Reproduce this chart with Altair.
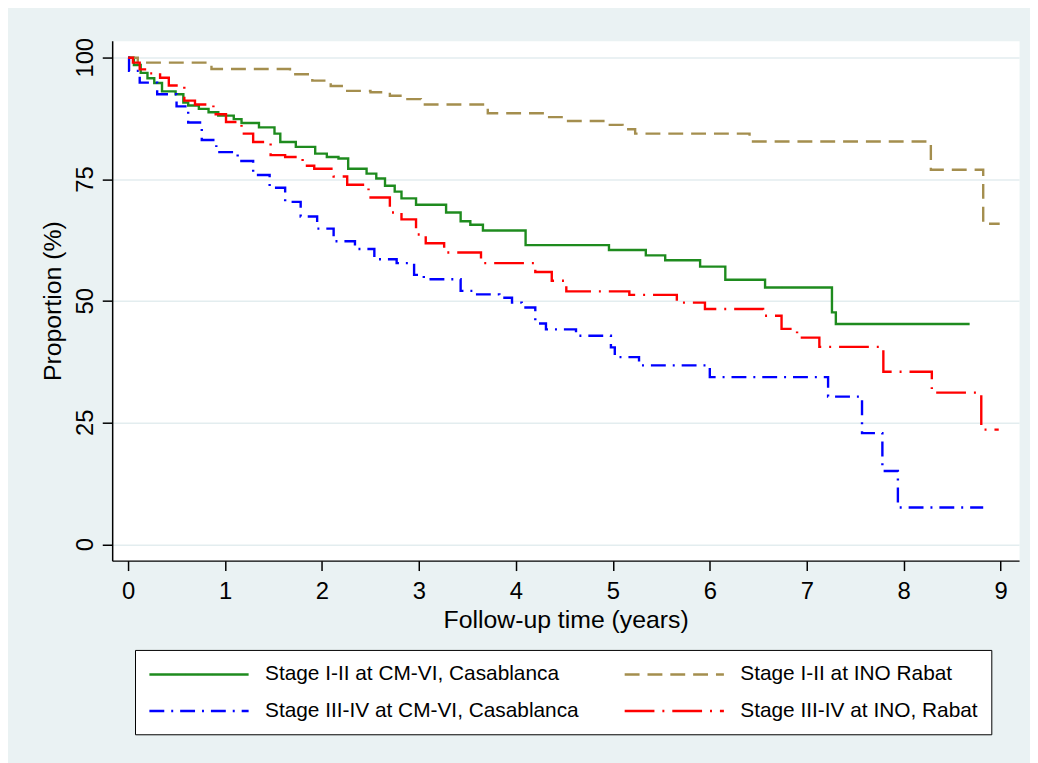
import altair as alt
import pandas as pd

# ---- data ----
series_names = [
    "Stage I-II at CM-VI, Casablanca",
    "Stage I-II at INO Rabat",
    "Stage III-IV at CM-VI, Casablanca",
    "Stage III-IV at INO, Rabat",
]
series_colors = ["#1E8B1E", "#A48E4E", "#0000FF", "#FF0000"]
series_dashes = [[1, 0], [15, 8], [15, 7, 2, 7], [30, 8, 2, 8]]

green_t = [0, 0.06, 0.13, 0.2, 0.27, 0.35, 0.49, 0.57, 0.62, 0.73, 0.83, 0.93, 1.09, 1.17,
           1.35, 1.51, 1.57, 1.73, 1.93, 2.05, 2.17, 2.27, 2.46, 2.56, 2.65, 2.75, 2.82, 2.97,
           3.28, 3.43, 3.53, 3.66, 4.1, 4.96, 5.34, 5.54, 5.9, 6.16, 6.57, 7.26, 7.3, 8.68]
green_v = [100, 98.5, 96.9, 95.8, 94.8, 93.1, 92.5, 90.8, 90.2, 89.5, 88.8, 88.1, 87.4, 86.6,
           85.7, 84.4, 82.7, 81.7, 80.3, 79.6, 79.3, 77.2, 76.2, 75.2, 73.7, 72.5, 71.1, 69.8,
           68.2, 66.4, 65.7, 64.5, 61.5, 60.5, 59.4, 58.4, 57.1, 54.4, 52.8, 47.7, 45.3, 45.3]

khaki_t = [0, 0.1, 0.86, 1.67, 1.9, 2.09, 2.24, 2.5, 2.7, 2.85, 3.02, 3.71, 4.31, 4.49,
           4.95, 5.1, 5.23, 6.41, 8.28, 8.82, 8.99]
khaki_v = [100, 99.0, 97.7, 96.6, 95.3, 94.2, 93.2, 92.9, 92.2, 91.5, 90.4, 88.6, 87.8, 87.0,
           86.2, 85.3, 84.4, 82.8, 77.0, 65.9, 65.9]

blue_t = [0, 0.01, 0.12, 0.3, 0.5, 0.62, 0.76, 0.91, 1.13, 1.29, 1.46, 1.62, 1.78, 1.95,
          2.12, 2.34, 2.54, 2.77, 2.95, 3.05, 3.43, 3.6, 3.83, 3.96, 4.06, 4.2, 4.31, 4.62,
          4.98, 5.02, 5.27, 6.0, 7.22, 7.57, 7.78, 7.94, 8.82]
blue_v = [100, 97.3, 94.9, 92.5, 90.0, 86.7, 83.1, 80.6, 78.8, 75.9, 73.3, 70.4, 67.4, 64.9,
          62.3, 60.7, 58.6, 57.8, 55.4, 54.5, 52.1, 51.4, 50.7, 49.7, 48.7, 45.4, 44.2, 42.9,
          40.5, 38.5, 36.8, 34.4, 30.4, 22.9, 15.1, 7.6, 7.6]

red_t = [0, 0.05, 0.12, 0.2, 0.33, 0.42, 0.58, 0.69, 0.88, 1.01, 1.17, 1.29, 1.47, 1.62,
         1.8, 1.92, 2.12, 2.26, 2.48, 2.7, 2.82, 2.97, 3.07, 3.26, 3.64, 4.2, 4.37, 4.52,
         5.17, 5.66, 5.95, 6.55, 6.74, 6.9, 7.13, 7.79, 8.29, 8.8, 8.98]
red_v = [100, 99, 97.6, 96.8, 95.9, 94.3, 91.2, 90.4, 88.4, 86.8, 84.4, 82.7, 80.0, 79.6,
         77.8, 77.2, 75.6, 73.9, 71.3, 68.2, 66.8, 63.7, 61.9, 60.0, 57.8, 56.0, 54.2, 52.0,
         51.3, 49.7, 48.4, 47.0, 44.3, 42.5, 40.6, 35.5, 31.2, 23.6, 23.6]

x_ticks = [0, 1, 2, 3, 4, 5, 6, 7, 8, 9]
y_ticks = [0, 25, 50, 75, 100]
y_tick_labels = ["0", "25", "50", "75", "100"]

rows = []
for name, ts, vs in zip(series_names,
                        [green_t, khaki_t, blue_t, red_t],
                        [green_v, khaki_v, blue_v, red_v]):
    for i, (t, v) in enumerate(zip(ts, vs)):
        rows.append({"series": name, "t": t, "v": v, "i": i})
df = pd.DataFrame(rows)
tick_df = pd.DataFrame({"v": y_ticks, "label": y_tick_labels})

FONT = "Liberation Sans"

x_scale = alt.Scale(domain=[-0.164, 9.19], nice=False, zero=False)
y_scale = alt.Scale(domain=[-3.3, 103.5], nice=False, zero=False)

legend = alt.Legend(
    title=None,
    orient="none",
    legendX=23,
    legendY=614,
    columns=2,
    direction="horizontal",
    symbolType="M-1,0H9",
    symbolSize=400,
    symbolStrokeWidth=2.4,
    labelFont=FONT,
    labelFontSize=21,
    labelColor="black",
    labelLimit=700,
    labelOffset=95,
    columnPadding=40,
    rowPadding=15,
    padding=13,
    strokeColor="black",
    fillColor="white",
)

lines = alt.Chart(df).mark_line(interpolate="step-after", strokeWidth=2.4).encode(
    x=alt.X("t:Q", scale=x_scale,
            axis=alt.Axis(values=x_ticks, title="Follow-up time (years)", grid=False,
                          labelPadding=9, titlePadding=4, labelFlush=False)),
    y=alt.Y("v:Q", scale=y_scale,
            axis=alt.Axis(values=y_ticks, title="Proportion (%)", grid=True,
                          labels=False, titlePadding=36)),
    color=alt.Color("series:N", scale=alt.Scale(domain=series_names, range=series_colors),
                    legend=legend),
    strokeDash=alt.StrokeDash("series:N", scale=alt.Scale(domain=series_names, range=series_dashes),
                              legend=legend),
    order="i:Q",
)

# rotated y tick labels (Stata style), placed through the shared y scale
ylabels = alt.Chart(tick_df).mark_text(
    angle=270, align="center", baseline="alphabetic",
    font=FONT, fontSize=24, color="black", clip=False,
).encode(
    y=alt.Y("v:Q", scale=y_scale, axis=None),
    x=alt.value(-19),
    text="label:N",
)

chart = alt.layer(lines, ylabels).resolve_axis(
    y="independent",
).properties(
    width=914,
    height=524,
    autosize=alt.AutoSizeParams(type="none"),
    padding={"left": 105, "top": 30, "right": 11, "bottom": 201},
).configure(
    background="#EAF2F3",
).configure_view(
    fill="white",
    stroke="transparent",
).configure_axis(
    labelFont=FONT,
    titleFont=FONT,
    labelFontSize=24,
    titleFontSize=25,
    titleFontWeight="normal",
    labelColor="black",
    titleColor="black",
    domainColor="black",
    domainWidth=1.5,
    tickColor="black",
    tickWidth=1.5,
    tickSize=10,
    gridColor="#E3EDEF",
    gridWidth=1.5,
)

chart.save("out.html", embed_options={"renderer": "svg", "actions": False})
